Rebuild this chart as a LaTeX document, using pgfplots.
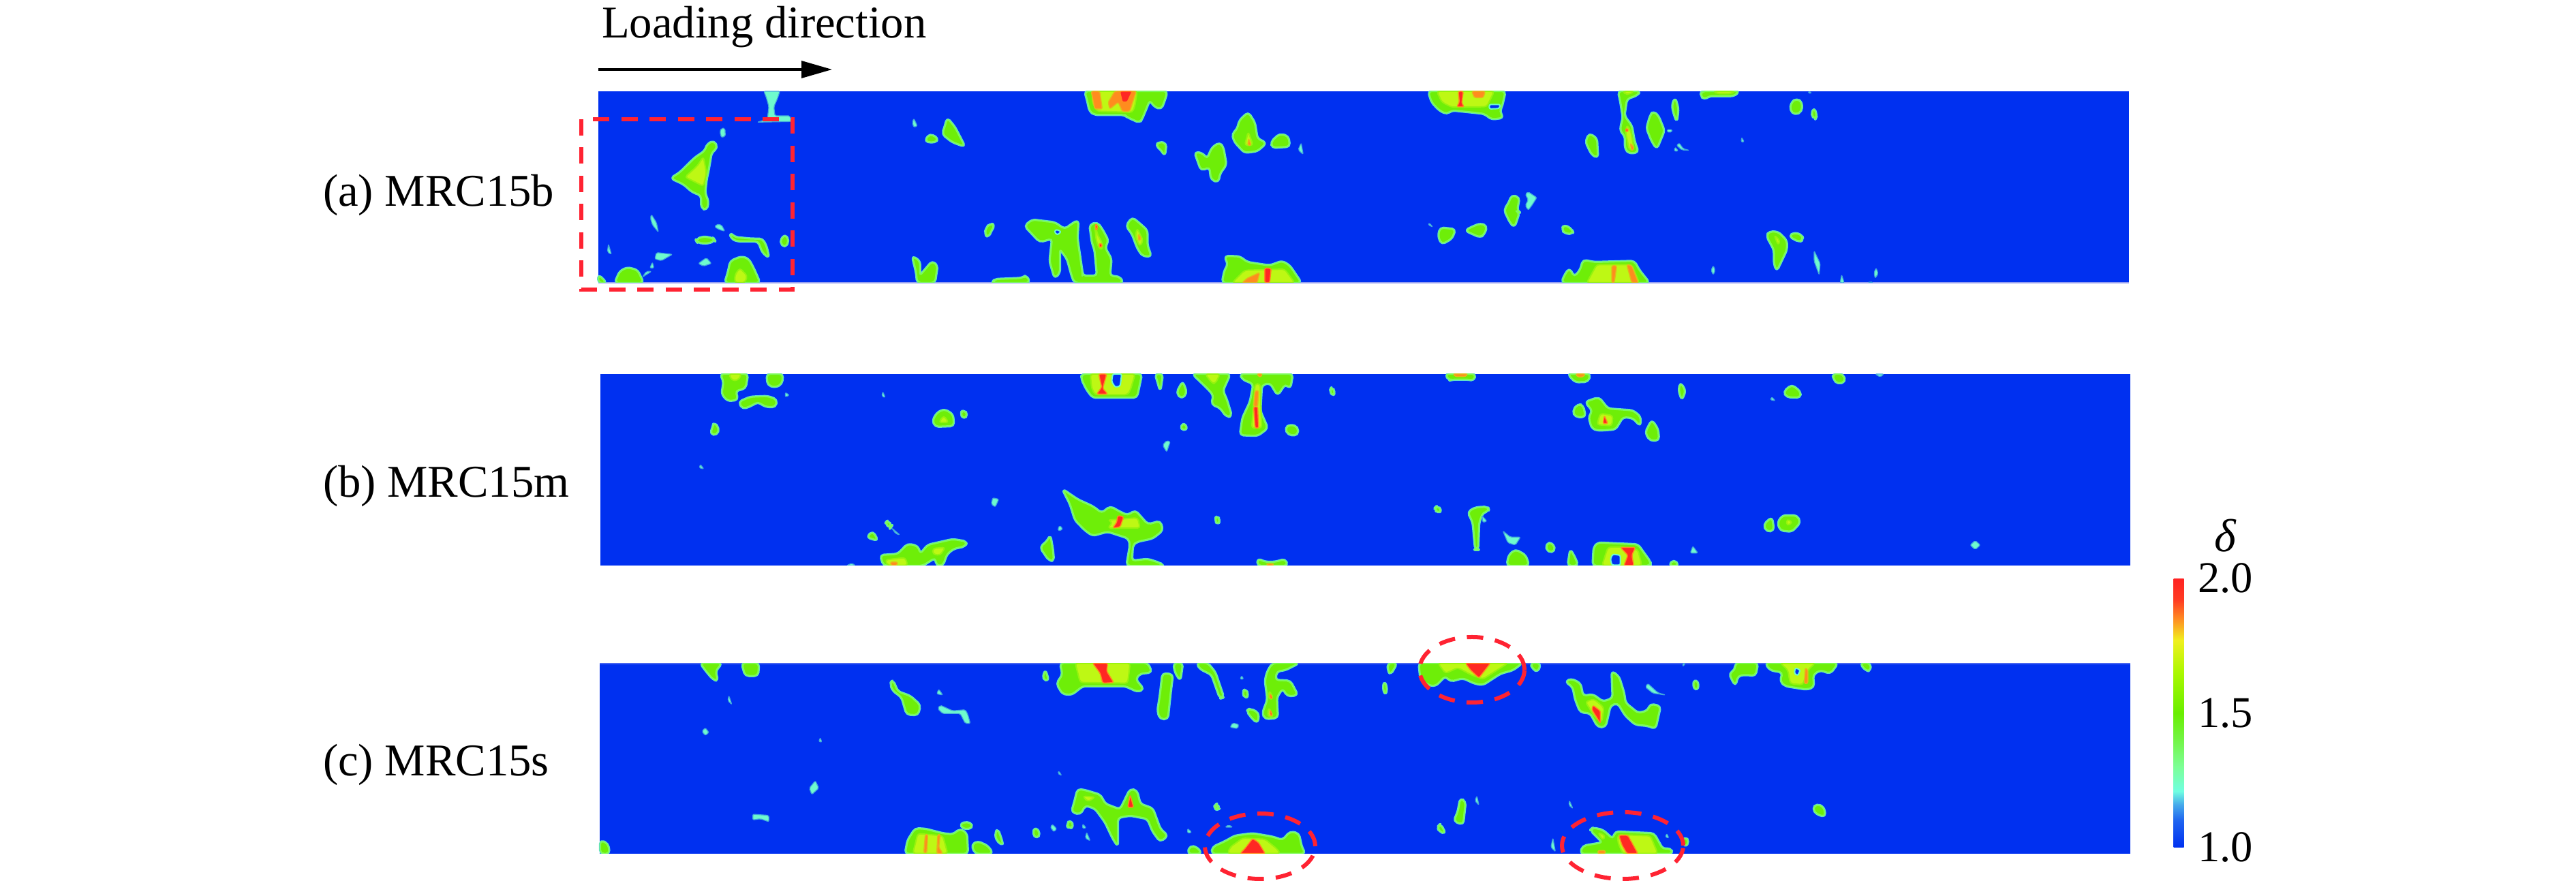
\documentclass[border=0pt]{standalone}
\usepackage{fontspec}
\setmainfont{Liberation Serif}
\usepackage{pgfplots}
\pgfplotsset{compat=1.18}
\usetikzlibrary{arrows.meta}
\definecolor{bg}{RGB}{0,48,240}
\definecolor{aq}{RGB}{110,250,205}
\definecolor{lg}{RGB}{125,250,90}
\definecolor{gr}{RGB}{110,238,8}
\definecolor{yl}{RGB}{190,248,20}
\definecolor{og}{RGB}{255,140,30}
\definecolor{rd}{RGB}{255,40,35}
\definecolor{dashred}{RGB}{255,35,50}
\pgfplotsset{
  canvas/.style={scale only axis,hide axis,width=756pt,height=258.6pt,at={(0pt,0pt)},anchor=south west,
    xmin=0,xmax=3780,ymin=0,ymax=1293,y dir=reverse,clip=false},
  crop/.style n args={5}{scale only axis,hide axis,width=230pt,height=#5,at={(#1,#2)},anchor=north west,
    xmin=0,xmax=1568,ymin=#3,ymax=#4,y dir=reverse},
  blob/.style={fill=gr,draw=lg,line width=0.45pt,line join=round,rounded corners=1pt,preaction={draw=aq!85!bg,line width=0.85pt}},
  pale/.style={fill=aq,draw=aq!60!bg,line width=0.25pt,line join=round,rounded corners=0.4pt},
  fyel/.style={fill=yl,draw=yl!50!gr,line width=0.4pt,line join=round,rounded corners=0.8pt},
  fora/.style={fill=og,draw=yl!40!og,line width=0.3pt,line join=round,rounded corners=0.5pt},
  fred/.style={fill=rd,draw=og,line width=0.3pt,line join=round,rounded corners=0.5pt},
  fhol/.style={fill=bg,draw=aq,line width=0.4pt,line join=round,rounded corners=0.5pt},
}
\newcommand{\G}[1]{\addplot[blob] coordinates {#1} --cycle;}
\newcommand{\Pl}[1]{\addplot[pale] coordinates {#1} --cycle;}
\newcommand{\Y}[1]{\addplot[fyel] coordinates {#1} --cycle;}
\newcommand{\Or}[1]{\addplot[fora] coordinates {#1} --cycle;}
\newcommand{\Rd}[1]{\addplot[fred] coordinates {#1} --cycle;}
\newcommand{\Hl}[1]{\addplot[fhol] coordinates {#1} --cycle;}
\begin{document}
\begin{tikzpicture}
\path[use as bounding box] (0pt,0pt) rectangle (756pt,258.6pt);
% ---- panels
\begin{axis}[canvas]
\addplot[fill=bg,draw=none] coordinates {(878,134)(3124,134)(3124,415)(878,415)} --cycle;
\addplot[fill=bg,draw=none] coordinates {(881,549)(3126,549)(3126,830)(881,830)} --cycle;
\addplot[fill=bg,draw=none] coordinates {(880,973)(3126,973)(3126,1253)(880,1253)} --cycle;
\addplot[draw={rgb,255:red,150;green,160;blue,240},line width=0.3pt] coordinates {(878,415)(3124,415)};
\addplot[draw={rgb,255:red,70;green,100;blue,240},line width=0.3pt] coordinates {(880,974)(3126,974)};
\end{axis}
% ---- panel a, left
\begin{axis}[crop={168pt}{231.8pt}{402}{1245}{56.2pt}]
\Pl{(383,402)(415,402)(410,435)(403,470)(405,510)(435,510)(438,535)(370,538)(390,525)(393,470)(388,430)}
\Pl{(298,565)(305,565)(306,600)(298,605)(295,580)}
\G{(283,620)(290,650)(278,672)(272,750)(268,790)(265,850)(272,890)(268,925)(258,915)(258,860)(240,845)(222,810)(197,785)(215,760)(245,695)(265,665)(270,635)}
\Y{(262,690)(268,760)(262,820)(235,790)(225,780)(250,730)}
\Pl{(158,945)(168,980)(172,1022)(160,990)(156,960)}
\Pl{(288,988)(298,990)(305,1018)(295,1012)(285,1000)}
\G{(315,1025)(325,1045)(358,1052)(380,1052)(388,1085)(393,1135)(380,1110)(372,1062)(330,1062)(318,1050)}
\G{(247,1055)(262,1042)(282,1050)(285,1060)(270,1072)(250,1068)}
\G{(425,1032)(433,1060)(425,1090)(415,1065)}
\Pl{(168,1112)(200,1120)(178,1148)(165,1140)}
\Pl{(268,1135)(278,1160)(262,1172)(252,1160)}
\G{(338,1130)(352,1140)(362,1180)(375,1245)(305,1245)(312,1195)(316,1150)}
\Y{(335,1180)(350,1215)(345,1245)(325,1245)(325,1210)}
\G{(110,1178)(130,1190)(142,1245)(85,1245)(95,1195)}
\G{(52,1210)(68,1245)(52,1245)}
\Pl{(148,1195)(158,1195)(140,1220)}
\Pl{(72,1075)(78,1120)(70,1110)}
\Pl{(160,1155)(163,1180)(155,1180)}
\G{(1025,402)(1190,402)(1185,440)(1178,480)(1165,470)(1155,440)(1140,520)(1135,540)(1110,515)(1105,505)(1045,505)(1035,490)(1030,440)}
\Y{(1040,402)(1130,402)(1125,470)(1120,495)(1050,490)(1040,450)}
\Or{(1038,402)(1055,402)(1060,480)(1045,480)}
\Or{(1085,402)(1128,402)(1115,490)(1100,490)(1092,450)(1075,480)(1072,450)}
\Rd{(1095,402)(1120,402)(1110,450)(1100,450)}
\Pl{(683,522)(690,555)(683,560)(680,540)}
\G{(750,520)(765,560)(785,645)(760,625)(740,590)(745,560)}
\G{(715,590)(732,610)(725,628)(705,622)}
\G{(1352,495)(1365,540)(1370,610)(1388,630)(1370,665)(1345,672)(1325,625)(1320,590)(1330,570)(1335,530)}
\Y{(1352,580)(1362,640)(1345,640)}
\Or{(1353,610)(1358,640)(1351,640)}
\G{(1415,590)(1432,600)(1435,645)(1400,650)(1398,625)}
\Pl{(1458,630)(1462,680)(1452,660)}
\G{(1175,625)(1188,632)(1185,685)(1178,660)(1167,640)}
\G{(1295,628)(1302,650)(1308,725)(1295,765)(1292,802)(1278,790)(1275,735)(1258,750)(1245,670)(1260,675)(1270,700)(1280,650)}
\G{(835,985)(845,990)(838,1015)(832,1045)(825,1030)(828,1005)}
\G{(920,968)(965,980)(985,1010)(1000,985)(1012,970)(1010,1050)(1020,1200)(1020,1215)(1050,1215)(1045,1100)(1040,1070)(1035,990)(1050,980)(1060,1010)(1072,1060)(1065,1090)(1078,1140)(1075,1215)(1095,1220)(1102,1245)(1005,1245)(1000,1220)(990,1140)(975,1095)(975,1200)(965,1225)(955,1150)(960,1050)(935,1065)(920,1030)(905,995)}
\Hl{(968,1010)(978,1020)(970,1035)(964,1020)}
\Y{(1045,990)(1052,1040)(1058,1060)(1062,1090)(1055,1100)(1048,1060)}
\Rd{(1056,1070)(1061,1080)(1056,1092)(1053,1080)}
\Rd{(1046,990)(1050,990)(1050,1010)(1047,1010)}
\G{(1120,958)(1135,985)(1150,1015)(1150,1080)(1158,1130)(1140,1125)(1130,1090)(1120,1030)(1108,995)}
\Y{(1130,1005)(1142,1060)(1135,1085)(1126,1040)}
\Or{(1132,1030)(1138,1050)(1133,1062)}
\G{(680,1128)(695,1150)(695,1215)(720,1150)(730,1170)(725,1245)(690,1245)(688,1200)}
\G{(845,1230)(900,1225)(908,1212)(915,1245)(840,1245)}
\G{(1305,1128)(1335,1130)(1350,1155)(1395,1170)(1420,1150)(1435,1170)(1458,1245)(1300,1245)(1305,1190)(1312,1165)}
\Y{(1345,1190)(1425,1185)(1445,1245)(1320,1245)}
\Rd{(1385,1180)(1398,1182)(1395,1245)(1385,1245)}
\Or{(1350,1225)(1375,1200)(1370,1245)(1340,1245)}
\end{axis}
% ---- panel a, right
\begin{axis}[crop={396pt}{231.8pt}{42}{885}{56.2pt}]
\G{(158,42)(312,42)(305,110)(300,130)(308,158)(285,165)(270,140)(205,125)(195,142)(180,125)(165,90)}
\Y{(175,42)(290,42)(275,110)(205,112)(185,90)}
\Or{(245,42)(272,42)(268,70)(250,70)}
\Rd{(218,42)(228,42)(225,95)(230,110)(215,110)(220,90)}
\Hl{(280,100)(302,100)(300,118)(280,120)}
\G{(538,42)(582,42)(575,60)(555,75)(550,150)(565,195)(570,260)(578,310)(560,315)(552,295)(552,240)(542,215)(545,180)(548,160)(542,80)}
\Y{(548,42)(570,42)(560,55)(552,55)}
\Y{(555,190)(563,215)(570,300)(560,300)(553,225)}
\Rd{(555,205)(559,213)(555,222)(552,213)}
\Or{(562,270)(570,290)(565,305)}
\G{(705,42)(780,42)(770,62)(720,62)(710,78)(703,60)}
\Y{(730,42)(770,42)(765,52)(735,52)}
\G{(652,72)(658,120)(655,175)(648,130)(646,100)}
\G{(608,130)(618,150)(630,215)(615,295)(605,260)(595,205)(602,150)}
\G{(895,75)(905,90)(905,130)(892,145)(882,125)(885,90)}
\G{(930,115)(935,150)(932,165)(924,145)}
\G{(480,228)(495,250)(497,335)(485,320)(473,265)}
\Pl{(640,208)(647,215)(640,225)(635,215)}
\Pl{(660,270)(668,295)(680,302)(665,300)(655,280)}
\Pl{(652,288)(658,305)(650,305)}
\Pl{(785,245)(790,265)(784,265)}
\Pl{(920,42)(925,50)(918,50)}
\G{(325,500)(340,510)(335,570)(340,575)(330,640)(322,620)(310,565)(320,530)}
\Pl{(358,485)(375,510)(365,545)(358,565)(352,545)(358,520)(352,495)}
\G{(182,643)(212,650)(205,690)(185,715)(178,680)}
\G{(262,625)(275,635)(270,670)(262,685)(232,655)(245,640)}
\G{(430,630)(445,650)(448,668)(432,668)(425,650)}
\Pl{(160,622)(167,640)(158,630)}
\G{(840,660)(858,662)(875,700)(875,740)(862,800)(855,832)(850,800)(850,740)(835,680)}
\Y{(850,675)(862,700)(858,720)}
\G{(890,665)(905,675)(908,695)(900,705)(880,680)}
\G{(468,785)(490,795)(570,790)(580,830)(600,885)(425,885)(430,855)(440,822)(450,860)(462,830)}
\Y{(495,805)(565,805)(580,885)(475,885)}
\Or{(525,810)(535,810)(530,885)(525,885)}
\Or{(555,805)(565,810)(578,885)(565,885)}
\Pl{(728,810)(732,830)(728,850)(724,830)}
\Pl{(930,745)(942,800)(940,850)(930,790)}
\Pl{(1054,820)(1058,845)(1052,865)(1050,840)}
\Pl{(985,850)(990,885)(982,885)}
\Pl{(1042,880)(1048,885)(1038,885)}
\end{axis}
% ---- panel b, left
\begin{axis}[crop={174pt}{148.8pt}{27}{870}{56.2pt}]
\G{(255,27)(310,27)(305,90)(285,100)(290,140)(270,145)(258,115)(262,60)}
\Y{(272,27)(298,27)(290,55)(278,55)}
\G{(348,27)(380,27)(378,70)(365,85)(350,75)}
\G{(315,128)(350,125)(368,140)(365,172)(345,170)(330,148)(318,165)(300,180)(292,150)}
\Pl{(385,108)(393,120)(385,128)}
\G{(242,240)(252,265)(248,295)(235,290)(240,262)}
\G{(704,183)(720,205)(722,255)(685,258)(680,230)(690,195)}
\Y{(702,210)(712,240)(692,240)}
\G{(742,185)(750,205)(742,225)(735,200)}
\Pl{(580,105)(585,130)(578,125)}
\G{(978,27)(1098,27)(1092,90)(1088,130)(1000,130)(988,95)(978,50)}
\Y{(995,27)(1085,27)(1075,100)(1070,118)(1005,118)(998,90)}
\Hl{(1040,27)(1058,27)(1055,80)(1045,85)(1038,60)}
\Rd{(1012,27)(1028,27)(1020,90)(1030,115)(1008,115)(1018,85)}
\G{(1125,27)(1140,27)(1135,100)(1130,60)}
\G{(1180,60)(1188,110)(1178,135)(1168,110)}
\G{(1200,27)(1275,27)(1260,100)(1268,140)(1278,212)(1268,215)(1255,175)(1238,160)(1242,120)(1230,90)}
\Y{(1225,27)(1255,27)(1245,70)(1238,65)}
\G{(1295,27)(1400,27)(1395,90)(1385,70)(1370,120)(1355,65)(1338,75)(1335,190)(1350,265)(1330,298)(1295,295)(1300,220)(1315,150)(1322,70)(1300,50)}
\Y{(1325,70)(1335,70)(1338,265)(1318,265)}
\Rd{(1322,170)(1330,170)(1332,265)(1325,265)}
\Or{(1325,100)(1332,100)(1330,170)(1322,170)}
\Or{(1328,27)(1340,27)(1335,42)}
\G{(1478,85)(1485,105)(1480,125)(1475,100)}
\G{(1182,240)(1190,272)(1175,270)}
\G{(1395,250)(1410,260)(1410,295)(1392,295)(1385,265)}
\Pl{(1148,320)(1155,325)(1148,370)(1140,340)}
\Pl{(215,425)(222,445)(213,440)}
\Pl{(800,572)(812,578)(805,612)(797,600)}
\G{(940,535)(970,580)(1000,610)(1018,640)(1035,610)(1055,635)(1070,650)(1085,628)(1100,665)(1110,690)(1135,675)(1140,715)(1120,750)(1088,765)(1080,780)(1078,850)(1110,842)(1135,860)(1140,870)(1068,870)(1075,780)(1072,750)(1030,720)(1000,738)(985,715)(965,670)(955,600)}
\Y{(1030,670)(1090,660)(1095,705)(1030,705)(1040,680)}
\Rd{(1050,650)(1062,655)(1055,700)(1040,705)(1048,680)}
\G{(590,672)(598,695)(595,705)(585,685)}
\Pl{(598,705)(614,735)(606,730)}
\G{(560,720)(570,760)(548,745)}
\Pl{(935,695)(940,710)(932,718)(930,705)}
\G{(915,738)(920,800)(922,850)(912,845)(895,790)(910,760)}
\G{(720,755)(748,765)(745,785)(722,795)(708,820)(700,870)(688,870)(685,835)(660,870)(582,870)(575,825)(610,820)(630,775)(650,785)(655,820)(670,780)}
\Y{(680,795)(705,790)(695,825)(680,820)}
\Y{(585,845)(625,835)(630,870)(590,870)}
\Or{(595,855)(610,855)(608,870)(597,870)}
\G{(1248,650)(1255,670)(1250,690)(1245,670)}
\G{(1330,840)(1345,855)(1365,855)(1385,842)(1390,870)(1330,870)}
\Or{(1348,862)(1362,862)(1360,870)(1350,870)}
\Pl{(518,860)(525,870)(508,870)}
\end{axis}
% ---- panel b, right
\begin{axis}[crop={400pt}{148.8pt}{27}{870}{56.2pt}]
\G{(165,27)(225,27)(222,55)(210,50)(180,50)(172,55)}
\Or{(180,27)(210,27)(205,38)(185,38)}
\G{(410,27)(455,27)(450,60)(425,62)}
\Or{(425,27)(445,27)(440,40)(430,40)}
\G{(635,65)(645,100)(638,140)(632,100)}
\G{(858,75)(875,105)(875,130)(848,128)(842,105)}
\G{(940,27)(960,27)(965,60)(950,70)(942,50)}
\Pl{(1025,27)(1042,27)(1035,40)}
\Pl{(818,128)(825,145)(815,140)}
\G{(472,130)(490,180)(540,188)(555,215)(555,255)(540,220)(520,215)(505,270)(470,275)(458,265)(452,215)(460,190)(445,150)}
\G{(430,160)(440,165)(445,215)(425,215)(420,190)}
\Y{(475,200)(500,210)(498,255)(468,250)}
\Rd{(483,210)(490,245)(480,245)}
\G{(578,230)(590,270)(592,318)(575,320)(565,285)}
\G{(148,608)(158,625)(150,640)(143,620)}
\G{(225,615)(250,612)(252,630)(240,635)(232,680)(230,800)(225,800)(220,680)(210,635)}
\Pl{(280,718)(295,745)(315,745)(305,780)(290,770)}
\G{(372,765)(385,790)(378,815)(365,795)}
\G{(305,800)(325,825)(332,870)(288,870)(292,825)}
\G{(415,800)(425,840)(430,870)(410,870)}
\G{(470,770)(550,778)(575,855)(575,870)(460,870)(462,790)}
\Y{(490,790)(515,788)(550,800)(558,870)(478,870)}
\Hl{(500,820)(515,825)(515,868)(498,868)(495,840)}
\Rd{(515,790)(545,790)(538,825)(542,870)(522,870)(530,825)}
\G{(622,845)(632,870)(612,870)}
\Pl{(660,785)(670,815)(655,815)}
\G{(840,650)(868,650)(875,680)(858,720)(835,715)(830,680)}
\Y{(848,665)(860,680)(848,695)}
\G{(818,658)(822,715)(808,720)(802,690)}
\Pl{(1225,760)(1235,780)(1225,800)(1215,780)}
\Pl{(238,650)(248,675)(240,680)}
\end{axis}
% ---- panel c, left
\begin{axis}[crop={174pt}{63.93pt}{40}{878}{55.87pt}]
\G{(215,40)(258,40)(245,75)(250,118)(240,110)(225,70)}
\G{(298,40)(332,40)(330,95)(305,95)}
\G{(600,115)(610,165)(635,185)(655,225)(650,268)(628,265)(618,190)(600,160)(595,130)}
\Pl{(692,155)(700,180)(688,175)}
\Pl{(272,183)(278,222)(270,205)}
\Pl{(695,225)(720,250)(745,245)(750,265)(755,305)(745,305)(735,262)(700,262)(690,240)}
\Pl{(225,325)(232,345)(225,358)(218,340)}
\Pl{(445,558)(452,590)(438,618)(433,590)}
\Pl{(320,705)(352,710)(352,738)(335,725)(320,730)}
\G{(935,40)(1110,40)(1118,80)(1095,85)(1085,110)(1102,155)(1090,165)(1065,140)(980,140)(958,178)(940,175)(928,130)(940,90)}
\Y{(965,40)(1075,40)(1070,128)(975,125)}
\Rd{(1000,40)(1030,40)(1028,75)(1042,125)(1020,128)(1015,85)}
\G{(905,70)(912,118)(900,110)}
\G{(1140,85)(1160,90)(1155,180)(1150,285)(1135,285)(1130,250)(1135,180)}
\G{(1162,40)(1180,40)(1175,115)(1165,80)}
\G{(1208,40)(1230,40)(1245,80)(1262,190)(1255,195)(1238,90)(1215,65)}
\Pl{(1298,95)(1302,110)(1295,110)}
\G{(1305,152)(1312,180)(1305,195)(1300,170)}
\G{(1360,40)(1412,40)(1385,70)(1368,75)(1365,115)(1395,118)(1410,180)(1390,185)(1380,150)(1368,190)(1370,280)(1345,285)(1340,260)(1350,200)(1345,115)(1350,75)}
\Y{(1353,160)(1362,195)(1352,200)}
\Y{(1352,235)(1362,275)(1350,275)}
\Rd{(1355,175)(1360,195)(1355,195)}
\Rd{(1355,245)(1360,270)(1355,270)}
\G{(1315,240)(1332,260)(1330,303)(1320,285)(1308,250)}
\Pl{(1280,303)(1292,310)(1290,328)(1275,322)}
\Pl{(455,368)(458,388)(452,385)}
\Pl{(932,515)(938,535)(930,525)}
\G{(970,595)(985,600)(1015,620)(1025,660)(1055,685)(1075,595)(1088,600)(1095,660)(1120,680)(1135,770)(1150,800)(1135,825)(1120,780)(1110,725)(1075,710)(1050,720)(1050,845)(1040,810)(1025,740)(1005,680)(985,665)(975,705)(958,695)(965,640)}
\Y{(980,625)(1005,630)(990,650)}
\Rd{(1075,620)(1082,675)(1070,675)}
\G{(755,740)(760,765)(740,770)(735,745)}
\G{(645,768)(665,770)(700,790)(720,795)(735,770)(748,790)(750,878)(625,878)(630,820)}
\Y{(650,790)(700,800)(710,878)(640,878)}
\Or{(665,795)(670,795)(668,875)(662,875)}
\Or{(690,795)(695,795)(692,850)(700,878)(688,878)}
\G{(770,825)(790,845)(800,878)(765,878)(758,840)}
\G{(810,770)(818,820)(820,842)(808,820)(805,790)}
\G{(885,762)(895,790)(888,812)(880,790)}
\Pl{(920,750)(928,770)(922,782)(915,760)}
\G{(955,730)(962,760)(952,768)(948,750)}
\Pl{(980,748)(987,765)(980,768)}
\Pl{(988,785)(995,822)(985,810)}
\Pl{(1190,768)(1198,785)(1190,788)}
\G{(1248,660)(1254,680)(1247,685)(1244,670)}
\G{(1195,845)(1208,850)(1218,878)(1190,878)}
\G{(1320,790)(1360,805)(1380,820)(1395,782)(1412,790)(1418,850)(1425,878)(1238,878)(1240,850)(1265,825)(1285,800)}
\Y{(1300,810)(1345,815)(1370,860)(1375,878)(1270,878)(1275,850)}
\Rd{(1320,812)(1332,830)(1345,878)(1295,878)(1305,855)}
\G{(15,820)(30,835)(33,878)(15,878)}
\Pl{(1272,752)(1280,762)(1265,762)}
\end{axis}
% ---- panel c, right
\begin{axis}[crop={400pt}{63.93pt}{100}{938}{55.87pt}]
\G{(112,100)(318,100)(300,130)(275,145)(240,195)(225,190)(200,165)(175,180)(165,155)(145,200)(130,195)(115,165)}
\Y{(150,100)(290,100)(265,135)(240,170)(215,150)(190,120)(165,145)}
\Rd{(205,100)(255,100)(232,165)(215,130)}
\G{(335,100)(355,100)(350,138)(340,125)}
\G{(50,100)(68,100)(55,150)(50,130)}
\G{(43,180)(48,210)(45,240)(40,210)}
\G{(418,170)(435,190)(440,245)(460,238)(480,270)(500,255)(498,135)(512,160)(522,230)(525,275)(550,320)(570,310)(575,280)(595,290)(585,388)(570,375)(545,370)(525,330)(510,275)(495,285)(485,380)(470,380)(455,320)(435,315)(425,260)(420,205)(405,180)}
\Y{(445,270)(462,258)(482,295)(478,360)(465,340)}
\Rd{(460,285)(475,310)(475,365)(468,340)(458,305)}
\Pl{(570,190)(590,230)(605,240)(580,232)(565,205)}
\G{(665,170)(672,195)(667,222)(660,195)}
\G{(745,100)(790,100)(785,155)(765,150)(750,155)(745,198)(738,170)(733,145)(745,130)}
\G{(805,100)(950,100)(935,145)(915,130)(900,150)(902,205)(888,215)(845,200)(835,180)(840,140)(815,130)}
\Y{(835,100)(905,100)(890,130)(880,195)(855,190)(850,130)}
\Hl{(865,120)(875,130)(870,155)(863,145)}
\Or{(885,120)(890,130)(890,190)(883,190)}
\G{(995,100)(1015,100)(1015,135)(1005,130)}
\Pl{(640,100)(645,100)(640,115)}
\G{(195,695)(205,710)(200,810)(182,795)(190,755)}
\Pl{(228,685)(232,725)(224,705)}
\G{(155,808)(165,850)(152,840)(150,820)}
\Pl{(413,705)(420,740)(412,725)}
\G{(908,720)(922,735)(925,775)(908,765)(900,740)}
\Pl{(380,870)(385,930)(376,910)}
\G{(460,825)(480,835)(500,875)(505,842)(582,850)(600,920)(615,915)(620,938)(435,938)(440,905)(480,890)(455,835)}
\Y{(510,855)(575,860)(590,938)(520,938)(510,890)}
\Rd{(512,858)(530,858)(550,938)(528,938)(518,900)}
\Y{(470,845)(485,860)(480,880)}
\Or{(470,925)(485,925)(485,938)(470,938)}
\G{(645,865)(652,885)(645,910)(640,885)}
\Pl{(608,850)(612,870)(605,865)}
\end{axis}
% ---- annotations and colour scale
\begin{axis}[canvas,
  colormap={delta}{rgb255(0pt)=(0,48,240); rgb255(10pt)=(30,100,240); rgb255(16pt)=(70,170,235); rgb255(21pt)=(112,255,225);
    rgb255(30pt)=(124,255,150); rgb255(40pt)=(115,245,70); rgb255(50pt)=(105,238,0); rgb255(65pt)=(170,248,0);
    rgb255(77pt)=(240,240,30); rgb255(85pt)=(255,140,35); rgb255(92pt)=(255,60,35); rgb255(100pt)=(255,35,35)},
  point meta min=1,point meta max=2,
  colorbar,
  colorbar style={at={(629.4pt,9.8pt)},anchor=south west,width=3pt,height=79pt,y dir=normal,
    ytick={1,1.5,2},yticklabels={1.0,1.5,2.0},major tick length=0pt,axis line style={draw=none},
    yticklabel style={font=\fontsize{12.9}{14}\selectfont,xshift=0.6pt}},
]
\addplot[draw=none,forget plot] coordinates {(0,0)(3780,1293)};
\draw[dashred,line width=1.2pt,dash pattern=on 4.8pt off 3.5pt] (axis cs:853,175) rectangle (axis cs:1163,425);
\draw[dashred,line width=1.2pt,dash pattern=on 4.8pt off 3.5pt] (axis cs:1849,1242) ellipse [x radius=16.2pt,y radius=9.6pt];
\draw[dashred,line width=1.2pt,dash pattern=on 4.8pt off 3.5pt] (axis cs:2160,983) ellipse [x radius=15.4pt,y radius=9.6pt];
\draw[dashred,line width=1.2pt,dash pattern=on 4.8pt off 3.5pt] (axis cs:2381,1241) ellipse [x radius=17.8pt,y radius=9.8pt];
\draw[black,line width=0.65pt,-{Triangle[length=9pt,width=5pt]}] (axis cs:878,102) -- (axis cs:1221,102);
\node[anchor=base west,inner sep=0pt,font=\fontsize{13.35}{15}\selectfont] at (axis cs:882,56) {Loading direction};
\node[anchor=base west,inner sep=0pt,font=\fontsize{13.35}{15}\selectfont] at (axis cs:473,303) {(a) MRC15b};
\node[anchor=base west,inner sep=0pt,font=\fontsize{13.35}{15}\selectfont] at (axis cs:473,730) {(b) MRC15m};
\node[anchor=base west,inner sep=0pt,font=\fontsize{13.35}{15}\selectfont] at (axis cs:473,1139) {(c) MRC15s};
\node[inner sep=0pt,font=\fontsize{13.6}{15}\selectfont\itshape] at (axis cs:3265,786) {δ};
\end{axis}
\end{tikzpicture}
\end{document}
